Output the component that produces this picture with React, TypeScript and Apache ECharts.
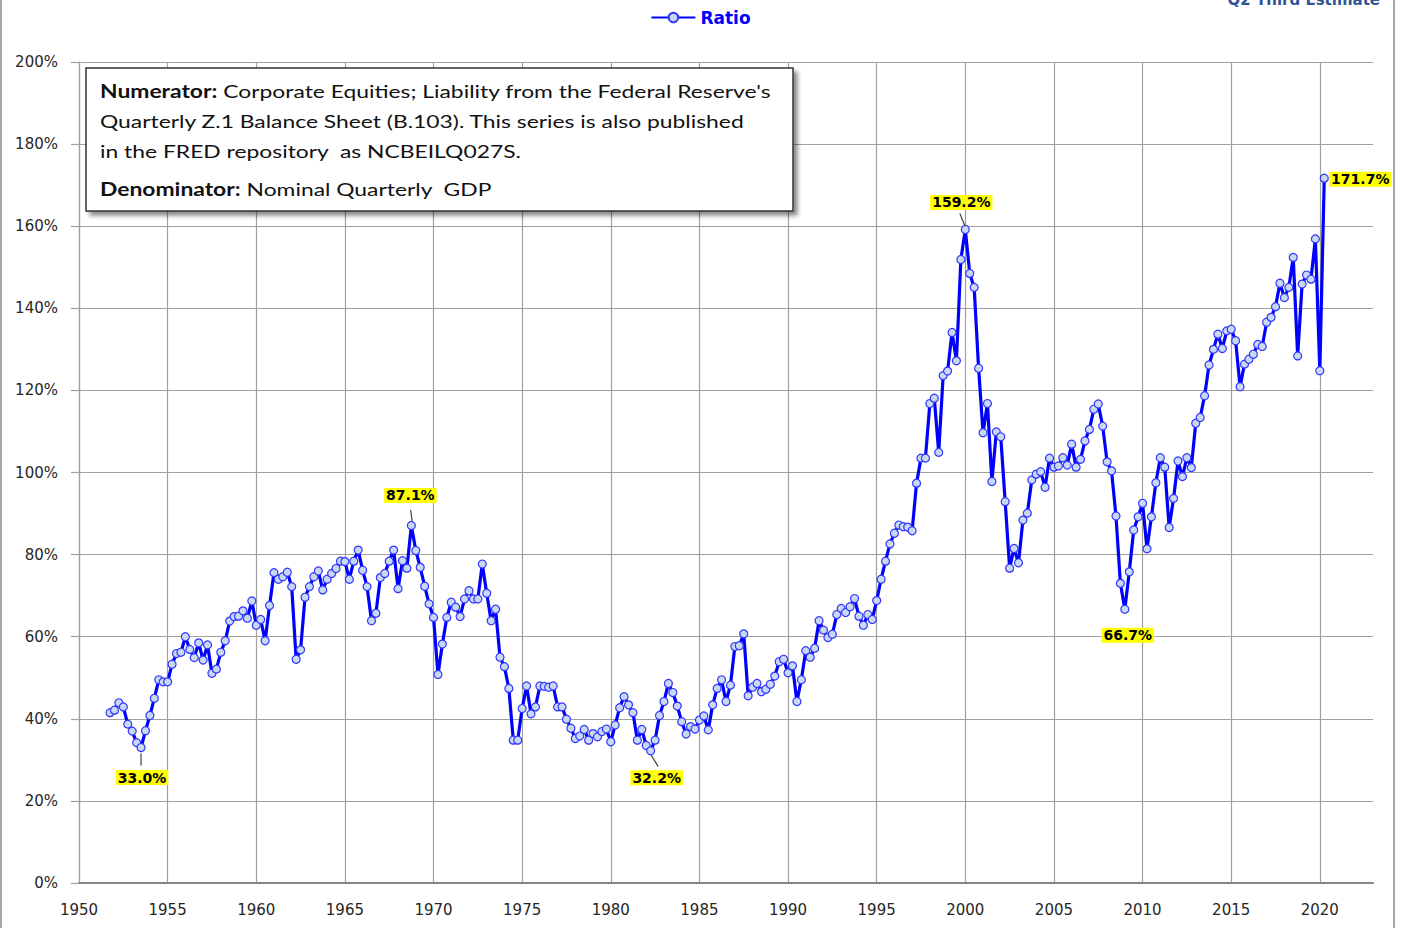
import React, { useEffect, useRef } from 'react';
import * as echarts from 'echarts';

// ---------- DATA ----------
const firstYear = 1951;
const firstQuarter = 4; // series starts 1951 Q4, quarterly

// Corporate equities / nominal GDP, % (quarterly)
const ratio: number[] = [
  41.5, // 1951 Q4
  42.1, 43.9, 42.9, 38.7, // 1952
  37.0, 34.2, 33.0, 37.1, // 1953
  40.8, 45.0, 49.5, 49.0, // 1954
  49.0, 53.3, 55.9, 56.2, // 1955
  60.0, 56.9, 54.9, 58.5, // 1956
  54.3, 58.0, 51.1, 52.1, // 1957
  56.2, 59.0, 63.8, 64.9, // 1958
  65.0, 66.3, 64.5, 68.7, // 1959
  62.8, 64.2, 59.0, 67.6, // 1960
  75.6, 74.0, 74.6, 75.7, // 1961
  72.2, 54.5, 56.8, 69.6, // 1962
  72.2, 74.6, 76.0, 71.4, // 1963
  74.0, 75.4, 76.6, 78.4, // 1964
  78.3, 74.0, 78.4, 81.1, // 1965
  76.2, 72.2, 63.9, 65.7, // 1966
  74.4, 75.4, 78.4, 81.1, // 1967
  71.7, 78.5, 76.7, 87.1, // 1968
  81.0, 76.9, 72.3, 68.0, // 1969
  64.7, 50.8, 58.2, 64.7, // 1970
  68.4, 67.2, 64.9, 69.2, // 1971
  71.2, 69.2, 69.2, 77.7, // 1972
  70.6, 63.9, 66.7, 55.0, // 1973
  52.7, 47.4, 34.8, 34.8, // 1974
  42.5, 48.0, 41.2, 42.9, // 1975
  48.0, 47.9, 47.7, 48.0, // 1976
  42.9, 42.9, 39.9, 37.7, // 1977
  35.2, 35.8, 37.4, 34.8, // 1978
  36.4, 35.6, 36.9, 37.5, // 1979
  34.4, 38.5, 42.7, 45.4, // 1980
  43.4, 41.5, 34.8, 37.4, // 1981
  33.5, 32.2, 34.8, 40.8, // 1982
  44.2, 48.6, 46.4, 43.1, // 1983
  39.3, 36.3, 38.1, 37.5, // 1984
  39.7, 40.7, 37.3, 43.4, // 1985
  47.4, 49.5, 44.2, 48.2, // 1986
  57.6, 57.8, 60.7, 45.6, // 1987
  47.7, 48.6, 46.6, 47.2, // 1988
  48.4, 50.4, 53.9, 54.5, // 1989
  51.2, 52.9, 44.2, 49.5, // 1990
  56.6, 55.0, 57.2, 63.9, // 1991
  61.6, 59.8, 60.6, 65.4, // 1992
  66.9, 65.9, 67.3, 69.3, // 1993
  65.0, 62.8, 65.4, 64.2, // 1994
  68.8, 74.0, 78.4, 82.6, // 1995
  85.2, 87.2, 86.8, 86.7, // 1996
  85.8, 97.4, 103.5, 103.5, // 1997
  116.8, 118.1, 104.9, 123.6, // 1998
  124.7, 134.1, 127.2, 151.9, // 1999
  159.2, 148.5, 145.1, 125.4, // 2000
  109.7, 116.8, 97.8, 109.9, // 2001
  108.7, 92.9, 76.7, 81.5, // 2002
  78.0, 88.4, 90.1, 98.2, // 2003
  99.6, 100.2, 96.4, 103.5, // 2004
  101.3, 101.6, 103.6, 101.8, // 2005
  106.9, 101.3, 103.2, 107.7, // 2006
  110.5, 115.4, 116.7, 111.3, // 2007
  102.6, 100.4, 89.4, 73.0, // 2008
  66.7, 75.8, 86.0, 89.2, // 2009
  92.5, 81.4, 89.2, 97.5, // 2010
  103.6, 101.3, 86.6, 93.7, // 2011
  102.8, 99.0, 103.6, 101.2, // 2012
  112.0, 113.4, 118.7, 126.2, // 2013
  130.0, 133.7, 130.2, 134.5, // 2014
  134.9, 132.1, 120.9, 126.4, // 2015
  127.6, 128.8, 131.2, 130.7, // 2016
  136.6, 137.8, 140.4, 146.1, // 2017
  142.6, 145.1, 152.4, 128.4, // 2018
  145.9, 148.1, 147.1, 156.9, // 2019
  124.8, 171.7, // 2020
];

const annotatedQuarters = ['1953Q3', '1968Q4', '1982Q2', '2000Q1', '2009Q1', '2020Q2'];

const seriesName = 'Ratio';
const xMin = 1950;
const xMax = 2023;
const xInterval = 5;
const yMin = 0;
const yMax = 200;
const yInterval = 20;

const topRightNote = 'Q2 Third Estimate';
const noteLines = [
  { bold: 'Numerator:', text: ' Corporate Equities; Liability from the Federal Reserve\'s' },
  { bold: '', text: 'Quarterly Z.1 Balance Sheet (B.103). This series is also published' },
  { bold: '', text: 'in the FRED repository  as NCBEILQ027S.' },
  { bold: 'Denominator:', text: ' Nominal Quarterly  GDP' },
];

// ---------- STYLE (positions of annotation labels relative to their points, px) ----------
const annoStyle: Record<string, { label: [number, number]; leader?: { off: [number, number]; len: number; rot: number } }> = {
  '1953Q3': { label: [1, 30], leader: { off: [0, 12], len: 12, rot: 0 } },
  '1968Q4': { label: [-1, -30], leader: { off: [0, -10], len: 11, rot: 8 } },
  '1982Q2': { label: [6, 27], leader: { off: [4, 10], len: 13, rot: 32 } },
  '2000Q1': { label: [-4, -27], leader: { off: [-3, -10], len: 13, rot: 22 } },
  '2009Q1': { label: [3, 26] },
  '2020Q2': { label: [36, 1] },
};

const FONT = 'DejaVu Sans';
const NOTE_Y = [91, 121, 151, 189];

function quarterToX(q: string): number {
  const y = parseInt(q.slice(0, 4), 10);
  const n = parseInt(q.slice(5), 10);
  return y + (n - 1) * 0.25;
}

export default function App() {
  const ref = useRef<HTMLDivElement>(null);

  useEffect(() => {
    document.body.style.margin = '0';
    if (!ref.current) return;
    const chart = echarts.init(ref.current, undefined, { renderer: 'svg' });

    const start = firstYear + (firstQuarter - 1) * 0.25;
    const data = ratio.map((v, i) => [start + i * 0.25, v]);

    const markData: any[] = [];
    annotatedQuarters.forEach((q) => {
      const x = quarterToX(q);
      const idx = Math.round((x - start) / 0.25);
      const v = ratio[idx];
      const st = annoStyle[q];
      if (st.leader) {
        markData.push({
          coord: [x, v],
          symbol: 'rect',
          symbolSize: [1.2, st.leader.len],
          symbolOffset: st.leader.off,
          symbolRotate: st.leader.rot,
          itemStyle: { color: '#404040' },
          label: { show: false },
        });
      }
      markData.push({
        coord: [x, v],
        symbol: 'circle',
        symbolSize: 0,
        itemStyle: { color: 'transparent' },
        label: {
          show: true,
          position: 'inside',
          offset: st.label,
          formatter: v.toFixed(1) + '%',
          fontFamily: FONT,
          fontSize: 14,
          fontWeight: 'bold',
          color: '#000',
          backgroundColor: '#FFFF00',
          padding: [1, 2, 0, 2],
        },
      });
    });

    const option: any = {
      animation: false,
      backgroundColor: '#ffffff',
      grid: { left: 79, right: 28, top: 62, bottom: 45, containLabel: false },
      legend: {
        top: 4,
        left: 'center',
        itemWidth: 44,
        itemHeight: 12,
        data: [seriesName],
        textStyle: { color: '#0000FF', fontWeight: 'bold', fontSize: 17, fontFamily: FONT },
      },
      xAxis: {
        type: 'value',
        min: xMin,
        max: xMax,
        interval: xInterval,
        axisLine: { show: true, lineStyle: { color: '#868686', width: 2 } },
        axisTick: { show: false },
        axisLabel: {
          color: '#262626',
          fontFamily: FONT,
          fontSize: 15,
          margin: 19,
          showMaxLabel: false,
          formatter: (v: number) => (v % 5 === 0 ? String(v) : ''),
        },
        splitLine: { show: true, showMaxLine: false, lineStyle: { color: '#A0A0A0', width: 1.2 } },
      },
      yAxis: {
        type: 'value',
        min: yMin,
        max: yMax,
        interval: yInterval,
        axisLine: { show: true, lineStyle: { color: '#A0A0A0', width: 1.2 } },
        axisTick: { show: true, length: 8, lineStyle: { color: '#A0A0A0', width: 1.2 } },
        axisLabel: {
          color: '#262626',
          fontFamily: FONT,
          fontSize: 15,
          margin: 21,
          formatter: (v: number) => v + '%',
        },
        splitLine: { show: true, lineStyle: { color: '#A0A0A0', width: 1.2 } },
      },
      series: [
        {
          name: seriesName,
          type: 'line',
          data,
          showAllSymbol: true,
          symbol: 'circle',
          symbolSize: 8,
          lineStyle: { color: '#0000FF', width: 3.2 },
          itemStyle: { color: '#C6D9F1', borderColor: '#3434FF', borderWidth: 1.2 },
          z: 3,
          markPoint: { data: markData, z: 10 },
        },
      ],
      graphic: [
        { type: 'line', z: 100, shape: { x1: 1, y1: 0, x2: 1, y2: 928 }, style: { stroke: '#8a8a8a', lineWidth: 1.5 } },
        { type: 'line', z: 100, shape: { x1: 1394, y1: 0, x2: 1394, y2: 928 }, style: { stroke: '#8a8a8a', lineWidth: 1.5 } },
        {
          type: 'text',
          z: 100,
          x: 1380,
          y: 0,
          style: { text: topRightNote, fill: '#2F5597', font: 'bold 15px "DejaVu Sans"', align: 'right', verticalAlign: 'middle' },
        },
        {
          type: 'rect',
          z: 100,
          shape: { x: 86, y: 68, width: 707, height: 143 },
          style: {
            fill: '#ffffff',
            stroke: '#333333',
            lineWidth: 1.5,
            shadowBlur: 4,
            shadowOffsetX: 4,
            shadowOffsetY: 4,
            shadowColor: 'rgba(0,0,0,0.45)',
          },
        },
        ...noteLines.map((ln, i) => ({
          type: 'text',
          z: 101,
          x: 100,
          y: NOTE_Y[i],
          scaleX: 1.27,
          style: {
            text: (ln.bold ? '{b|' + ln.bold + '}' : '') + '{r|' + ln.text + '}',
            verticalAlign: 'middle',
            rich: {
              b: { fontFamily: 'Lato', fontSize: 18, fontWeight: 'bold', fill: '#111111' },
              r: { fontFamily: 'Lato', fontSize: 18, fill: '#111111' },
            },
          },
        })),
      ],
    };

    chart.setOption(option);
    return () => chart.dispose();
  }, []);

  return (
    <div style={{ position: 'absolute', left: 0, top: 0, width: 1401, height: 928 }}>
      <div ref={ref} style={{ width: 1401, height: 928 }} />
    </div>
  );
}
